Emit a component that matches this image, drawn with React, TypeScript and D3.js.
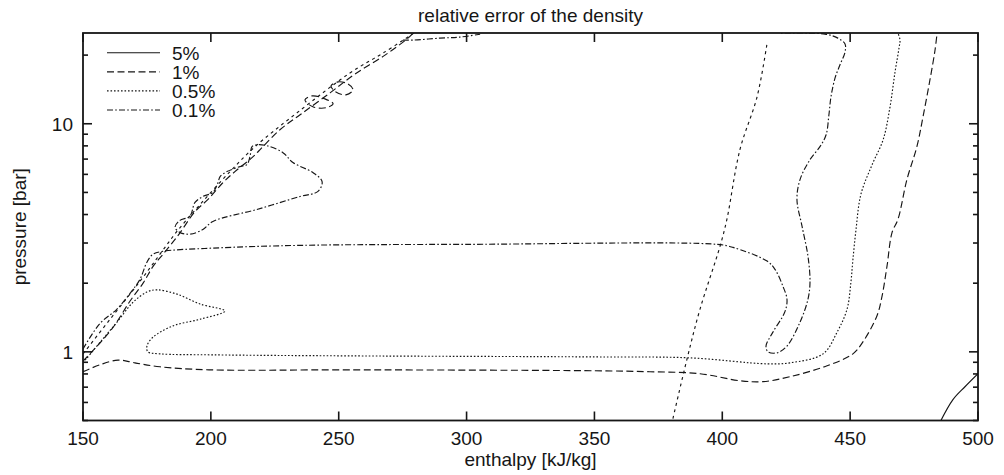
import React from 'react';
import * as d3 from 'd3';

type P = [number, number]; // [enthalpy kJ/kg, pressure bar]

const xTicks = [150, 200, 250, 300, 350, 400, 450, 500];
const yMajor = [1, 10];
const yMinor = [0.5, 0.6, 0.7, 0.8, 0.9, 2, 3, 4, 5, 6, 7, 8, 9, 20];
const legendLabels = ['5%', '1%', '0.5%', '0.1%'];

const satLiquid: P[] = [
  [150, 0.98], [160.6, 1.39], [172.3, 2.04], [180.1, 2.68], [186.8, 3.38], [195.8, 4.43],
  [207.5, 6.17], [217.3, 7.94], [233.7, 11.17], [254.4, 16.7], [267.3, 20.4], [279.4, 24.97],
];
const satVapor: P[] = [
  [380.7, 0.51], [386.2, 0.93], [391.3, 1.54], [399.1, 2.9], [401.8, 3.81], [406.9, 7.7],
  [413.6, 13.12], [417.5, 22.5],
];

const c5: P[] = [[485.1, 0.49], [490.2, 0.617], [494.9, 0.703], [500, 0.802]];

const c1Lower: P[] = [
  [150, 0.818], [156.6, 0.877], [163.7, 0.92], [170.3, 0.895], [180.1, 0.86], [199.3, 0.834],
  [254.4, 0.834], [350.2, 0.826], [371.7, 0.818], [391.3, 0.802], [406.9, 0.747], [415.9, 0.74],
  [426.5, 0.778], [441.0, 0.869], [451.1, 0.98], [455.0, 1.106], [460.5, 1.44], [462.5, 1.76],
  [464.4, 2.37], [466.4, 3.34], [468.7, 3.81], [472.2, 5.69], [476.1, 7.94], [478.5, 10.73],
  [481.2, 15.56], [483.2, 21.05], [484.0, 24.97],
];
const c1Upper: P[] = [
  [150, 0.91], [161.3, 1.26], [168.4, 1.67], [173.5, 2.0], [177.4, 2.37], [181.3, 2.68],
  [187.2, 3.24], [193.8, 4.12], [198.9, 4.66], [204.4, 5.47], [209.4, 6.17], [216.1, 7.1],
  [220.0, 7.86], [227.0, 9.41], [234.9, 10.95], [246.6, 13.66], [256.4, 16.53], [268.1, 20.0],
  [277.1, 23.74], [279.1, 24.97],
];
const c1Loop1: P[] = [
  [236.8, 12.73], [239.6, 13.25], [244.6, 12.86], [247.8, 12.23], [245.0, 11.75], [239.9, 11.87],
];
const c1Loop2: P[] = [
  [247.0, 14.65], [249.7, 15.26], [253.6, 14.95], [255.6, 14.08], [252.8, 13.39], [248.9, 13.79],
];

const c05Main: P[] = [
  [150, 0.895], [157.8, 1.14], [163.3, 1.35], [169.6, 1.65], [175.0, 1.83], [178.9, 1.87],
  [186.8, 1.79], [195.8, 1.62], [205.5, 1.51], [195.8, 1.39], [185.2, 1.3], [177.4, 1.16],
  [175.0, 1.06], [175.4, 1.0], [180.1, 0.98], [200.8, 0.97], [254.4, 0.96], [350.2, 0.95],
  [387.4, 0.941], [417.5, 0.886], [426.5, 0.895], [439.4, 0.98], [444.9, 1.22], [448.8, 1.54],
  [450.3, 2.02], [451.1, 2.55], [452.3, 3.44], [454.2, 4.9], [458.6, 6.62], [462.9, 8.51],
  [465.6, 11.87], [467.5, 16.7], [469.1, 21.47], [469.5, 23.27], [468.7, 24.97],
];

const c01Main: P[] = [
  [150, 1.03], [156.6, 1.33], [163.3, 1.54], [169.6, 1.88], [172.3, 2.08], [175.0, 2.47],
  [177.4, 2.68], [181.3, 2.76], [200.8, 2.85], [234.9, 2.93], [300.2, 2.96], [397.9, 2.96],
  [404.2, 2.87], [417.5, 2.5], [420.6, 2.3], [423.7, 1.94], [425.3, 1.7], [424.5, 1.5],
  [419.8, 1.22], [417.1, 1.06], [417.9, 1.0], [421.4, 0.99], [425.3, 1.06], [430.4, 1.35],
  [433.5, 1.7], [434.3, 2.02], [433.5, 2.63], [431.2, 3.55], [429.2, 4.66], [430.4, 5.69],
  [434.3, 6.96], [438.2, 7.94], [440.6, 8.95], [441.7, 10.95], [442.5, 13.12], [444.1, 15.88],
  [446.0, 18.1], [448.0, 20.63], [448.0, 22.36], [445.2, 23.74], [440.2, 24.72], [422.6, 24.97],
];
const c01Lobe: P[] = [
  [186.0, 3.52], [187.9, 3.77], [191.8, 3.93], [193.8, 4.52], [196.9, 4.8], [200.8, 5.0],
  [202.8, 5.53], [203.6, 5.87], [206.3, 6.17], [211.4, 6.49], [214.1, 6.62], [215.3, 7.18],
  [216.1, 7.94], [218.0, 8.09], [222.0, 8.01], [228.2, 7.47], [232.1, 6.76], [239.9, 6.11],
  [243.5, 5.58], [241.9, 5.05], [234.9, 4.8], [218.0, 4.21], [200.8, 3.73], [196.9, 3.44],
  [191.8, 3.28], [187.9, 3.34],
];
const c01Top: P[] = [[275.1, 23.27], [279.1, 23.27], [289.6, 23.74], [297.4, 23.99], [305.3, 24.7]];

const W = 1004;
const H = 475;
const L = 83, R = 978, T = 33, B = 420.5;
const FONT = "'Liberation Sans', Arial, Helvetica, sans-serif";
const INK = '#161616';

const dash = {
  c5: undefined as string | undefined,
  c1: '7,3.5',
  c05: '1.6,1.9',
  c01: '6,2.2,1.6,2.2',
  sat: '3,3.6',
};

export default function App() {
  const x = d3.scaleLinear().domain([150, 500]).range([L, R]);
  const y = d3.scaleLog().domain([0.5, 25]).range([B, T]);

  const open = d3
    .line<P>()
    .x((d) => x(d[0]))
    .y((d) => y(d[1]))
    .curve(d3.curveCatmullRom.alpha(0.5));
  const closed = d3
    .line<P>()
    .x((d) => x(d[0]))
    .y((d) => y(d[1]))
    .curve(d3.curveCatmullRomClosed.alpha(0.5));

  const paths: { d: string; da?: string }[] = [
    { d: open(satLiquid)!, da: dash.sat },
    { d: open(satVapor)!, da: dash.sat },
    { d: open(c5)!, da: dash.c5 },
    { d: open(c1Lower)!, da: dash.c1 },
    { d: open(c1Upper)!, da: dash.c1 },
    { d: closed(c1Loop1)!, da: dash.c1 },
    { d: closed(c1Loop2)!, da: dash.c1 },
    { d: open(c05Main)!, da: dash.c05 },
    { d: open(c01Main)!, da: dash.c01 },
    { d: closed(c01Lobe)!, da: dash.c01 },
    { d: open(c01Top)!, da: dash.c01 },
  ];

  const legendDash = [dash.c5, dash.c1, dash.c05, dash.c01];

  return (
    <svg
      width={W}
      height={H}
      viewBox={`0 0 ${W} ${H}`}
      style={{ position: 'absolute', left: 0, top: 0, background: '#fff' }}
      fontFamily={FONT}
    >
      <defs>
        <clipPath id="plotClip">
          <rect x={L} y={T} width={R - L} height={B - T} />
        </clipPath>
      </defs>
      <rect x={0} y={0} width={W} height={H} fill="#fff" />

      <text x={(L + R) / 2} y={22} textAnchor="middle" fontSize={19} fill={INK}>
        relative error of the density
      </text>

      <g clipPath="url(#plotClip)" fill="none" stroke={INK} strokeWidth={1.15}>
        {paths.map((p, i) => (
          <path key={i} d={p.d} strokeDasharray={p.da} />
        ))}
      </g>

      {/* x ticks */}
      <g stroke={INK} strokeWidth={1.6}>
        {xTicks.map((t) => (
          <g key={t}>
            <line x1={x(t)} x2={x(t)} y1={B} y2={B - 9} />
            <line x1={x(t)} x2={x(t)} y1={T} y2={T + 9} />
          </g>
        ))}
        {yMajor.map((t) => (
          <g key={t}>
            <line x1={L} x2={L + 9} y1={y(t)} y2={y(t)} />
            <line x1={R} x2={R - 9} y1={y(t)} y2={y(t)} />
          </g>
        ))}
        {yMinor.map((t) => (
          <g key={t}>
            <line x1={L} x2={L + 5} y1={y(t)} y2={y(t)} />
            <line x1={R} x2={R - 5} y1={y(t)} y2={y(t)} />
          </g>
        ))}
      </g>

      <rect x={L} y={T} width={R - L} height={B - T} fill="none" stroke={INK} strokeWidth={1.8} />

      <g fontSize={19} fill={INK}>
        {xTicks.map((t) => (
          <text key={t} x={x(t)} y={445} textAnchor="middle">
            {t}
          </text>
        ))}
        {yMajor.map((t) => (
          <text key={t} x={73} y={y(t) + 7} textAnchor="end">
            {t}
          </text>
        ))}
        <text x={(L + R) / 2} y={466} textAnchor="middle">
          enthalpy [kJ/kg]
        </text>
        <text
          transform={`translate(26, ${(T + B) / 2}) rotate(-90)`}
          textAnchor="middle"
        >
          pressure [bar]
        </text>
      </g>

      <g>
        {legendLabels.map((lab, i) => {
          const ly = 52.7 + i * 19.1;
          return (
            <g key={lab}>
              <line
                x1={107}
                x2={160}
                y1={ly}
                y2={ly}
                stroke={INK}
                strokeWidth={1.15}
                strokeDasharray={legendDash[i]}
              />
              <text x={172} y={ly + 6.8} fontSize={19} fill={INK}>
                {lab}
              </text>
            </g>
          );
        })}
      </g>
    </svg>
  );
}
